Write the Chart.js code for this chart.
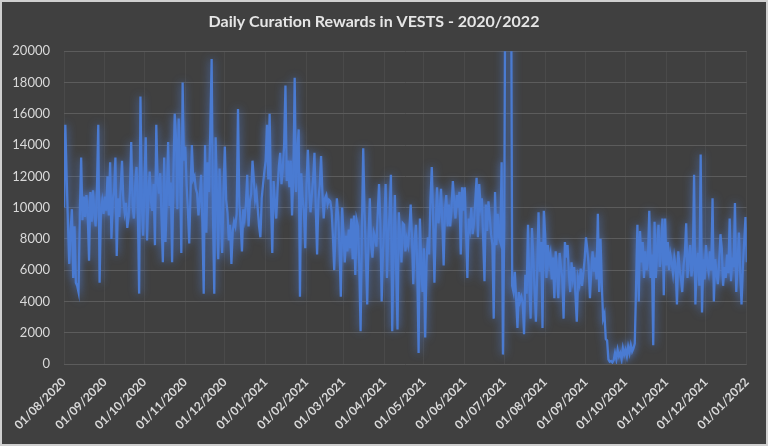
<!DOCTYPE html>
<html>
<head>
<meta charset="utf-8">
<script src="https://cdn.jsdelivr.net/npm/chart.js@4.4.1/dist/chart.umd.min.js"></script>
<style>
  html, body { margin: 0; padding: 0; background: #404040; }
  #wrap { width: 768px; height: 446px; position: relative; }
</style>
</head>
<body>
<div id="wrap"><canvas id="c" width="768" height="446"></canvas></div>
<script>
const chartTitle = "Daily Curation Rewards in VESTS - 2020/2022";
const startDate = "01/08/2020";
const tickLabels = ["01/08/2020","01/09/2020","01/10/2020","01/11/2020","01/12/2020","01/01/2021","01/02/2021","01/03/2021","01/04/2021","01/05/2021","01/06/2021","01/07/2021","01/08/2021","01/09/2021","01/10/2021","01/11/2021","01/12/2021","01/01/2022"];
const yTicks = [0,2000,4000,6000,8000,10000,12000,14000,16000,18000,20000];

// daily values, one per day from 01/08/2020 to 01/01/2022
const aug2020 = [10000,15300,12000,9000,6400,8500,9900,5500,8800,5200,5000,4600,9500,13200,9200,10700,9400,10800,9600,6600,11000,9100,11100,9700,8800,11200,15300,5200,9800,10400,9600];
const sep2020 = [10700,9800,12000,9500,12900,8000,10500,11000,13200,6900,10600,9400,11200,13000,10500,9700,10300,8700,9400,11000,14200,10200,9300,11400,12600,10000,4500,17100,10500,8200];
const oct2020 = [11400,14500,7900,10800,12300,10400,9800,11500,7600,15300,11800,10900,12200,9300,6500,13200,7800,10700,14200,10100,11600,6500,12000,16000,14400,9900,15700,12500,7100,18000,13000];
const nov2020 = [13900,11500,9800,7700,11000,14000,11800,12000,11200,10900,9500,10600,12100,9000,4500,14000,8400,12900,11000,15000,19500,9700,4500,14500,11000,6700,12500,9500,7100,11000];
const dec2020 = [13900,10500,9700,7900,8900,6400,8500,9100,8800,9600,16300,10200,9000,7200,9900,9300,10200,12100,8800,10400,10900,13000,11800,10500,11000,9900,8800,8100,10600,11500,12300];
const jan2021 = [13000,15300,11800,16000,10600,7100,11700,10400,9300,11200,12600,13500,11500,12500,14000,17800,11700,13000,11300,13000,9500,12000,18300,11000,13500,15000,4300,12200,10600,9800,7400];
const feb2021 = [11500,13700,11200,9700,10800,11800,13500,10000,7000,10500,11400,13300,11000,9300,10600,10800,10200,10500,10400,9800,8200,6000,8600,10600,9400,7500,4300,10000];
const mar2021 = [8400,6500,8200,7200,8600,7400,9300,6700,9500,5700,9200,8800,6300,2100,8500,13800,9700,7000,3800,8000,10600,7600,6800,8400,8100,7500,9600,11500,9000,4000,7200];
const apr2021 = [9000,11500,5500,8300,9500,12100,2100,7000,10800,6000,2200,9700,8100,6500,9000,8900,7200,8000,7600,8600,10200,8000,5100,7800,8900,6200,700,9300,6300,4600];
const may2021 = [7400,1700,6500,8100,7000,10400,12600,9500,5200,8800,11300,9000,9700,11200,9000,6300,9800,10800,8800,10200,8800,10000,11700,10400,9300,10800,10000,11000,7000,11300,9800];
const jun2021 = [11300,8500,5500,9300,8700,10000,8300,9000,10400,11900,8100,11500,10100,10600,8000,5300,10200,8500,10400,9400,8300,7600,2900,11000,7600,9600,8100,7800,12900,600];
const jul2021 = [9000,30000,40000,38000,35000,30000,5000,4600,5900,4200,2300,4600,4000,4300,3900,1900,5700,4500,8900,5000,2900,8700,6800,4800,2700,6000,9700,5900,7800,2300,9800];
const aug2021 = [8300,5500,7600,6500,7000,5400,6800,4200,7200,5900,4200,7100,6200,5500,2900,7800,6800,7600,5800,4600,6500,5500,6200,4400,2700,5500,5100,6100,5000,5800,6700];
const sep2021 = [8100,7300,6300,4200,6000,7200,5900,6800,5400,9600,4600,8000,5000,2900,3200,1600,1500,300,150,200,100,250,700,300,900,500,700,300,1000,600];
const oct2021 = [900,500,1100,700,1200,800,1000,1300,5000,8900,4000,8500,6500,7800,5500,7200,6000,6700,9800,5500,7000,1200,9100,5500,7300,8900,6200,7500,9300,4400,9300];
const nov2021 = [6300,7800,6000,7000,6500,5800,6800,6200,3800,7200,6100,5500,4600,6300,7000,9000,5500,6800,7600,5600,6400,12100,3800,6500,7100,5000,13400,3300,6700,5400];
const dec2021 = [7600,6400,5900,7200,6000,10600,4000,6700,5800,5100,6500,8300,7400,5000,6200,5500,7000,5800,9300,5300,6800,6200,10300,4600,6500,8400,5800,3800,6200,7800,9400];
const jan2022 = [6500];

const values = [].concat(aug2020, sep2020, oct2020, nov2020, dec2020, jan2021, feb2021, mar2021, apr2021, may2021, jun2021, jul2021, aug2021, sep2021, oct2021, nov2021, dec2021, jan2022);

function parseDMY(s) { const [d, m, y] = s.split('/').map(Number); return Date.UTC(y, m - 1, d); }
const t0 = parseDMY(startDate);
const tickDays = tickLabels.map(s => Math.round((parseDMY(s) - t0) / 86400000));
const labelByDay = {};
tickDays.forEach((d, i) => { labelByDay[d] = tickLabels[i]; });

const points = values.map((v, i) => ({ x: i, y: v }));

const bgPlugin = {
  id: 'bg',
  beforeDraw(chart) {
    const ctx = chart.ctx;
    ctx.save();
    ctx.fillStyle = '#404040';
    ctx.fillRect(0, 0, chart.width, chart.height);
    ctx.restore();
  },
  afterDraw(chart) {
    const ctx = chart.ctx;
    ctx.save();
    ctx.strokeStyle = '#d0d0d0';
    ctx.lineWidth = 2;
    ctx.strokeRect(1, 1, chart.width - 2, chart.height - 2);
    ctx.restore();
  }
};
const glowPlugin = {
  id: 'glow',
  beforeDatasetsDraw(chart) {
    const ctx = chart.ctx;
    ctx.save();
    ctx.shadowColor = 'rgba(80,130,225,0.9)';
    ctx.shadowBlur = 9;
  },
  afterDatasetsDraw(chart) {
    chart.ctx.restore();
  }
};

new Chart(document.getElementById('c'), {
  type: 'line',
  data: {
    datasets: [{
      data: points,
      borderColor: '#4a7bd2',
      borderWidth: 2.3,
      pointRadius: 0,
      tension: 0,
      fill: false
    }]
  },
  options: {
    responsive: false,
    animation: false,
    layout: { padding: { left: 0, right: 20, top: 0, bottom: 0 } },
    plugins: {
      legend: { display: false },
      tooltip: { enabled: false },
      title: {
        display: true,
        text: chartTitle,
        color: '#e6e6e6',
        font: { family: 'Lato', size: 16, weight: 'bold' },
        padding: { top: 12, bottom: 20 }
      }
    },
    scales: {
      x: {
        type: 'linear',
        min: tickDays[0],
        max: tickDays[tickDays.length - 1],
        afterBuildTicks(axis) { axis.ticks = tickDays.map(v => ({ value: v })); },
        afterFit(axis) { axis.height = 82; },
        ticks: {
          color: '#d9d9d9',
          font: { family: 'Lato', size: 12, weight: 'bold' },
          maxRotation: 45,
          minRotation: 45,
          autoSkip: false,
          padding: 11,
          callback: (v) => labelByDay[v] || ''
        },
        grid: { color: '#4a4a4a', lineWidth: 1, drawTicks: false },
        border: { display: false }
      },
      y: {
        min: 0,
        max: 20000,
        afterBuildTicks(axis) { axis.ticks = yTicks.map(v => ({ value: v })); },
        afterFit(axis) { axis.width = 64; },
        ticks: {
          color: '#d9d9d9',
          font: { family: 'Lato', size: 13 },
          padding: 14,
          callback: (v) => String(v)
        },
        grid: { color: '#5c5c5c', lineWidth: 1, drawTicks: false },
        border: { display: false }
      }
    }
  },
  plugins: [bgPlugin, glowPlugin]
});
</script>
</body>
</html>
